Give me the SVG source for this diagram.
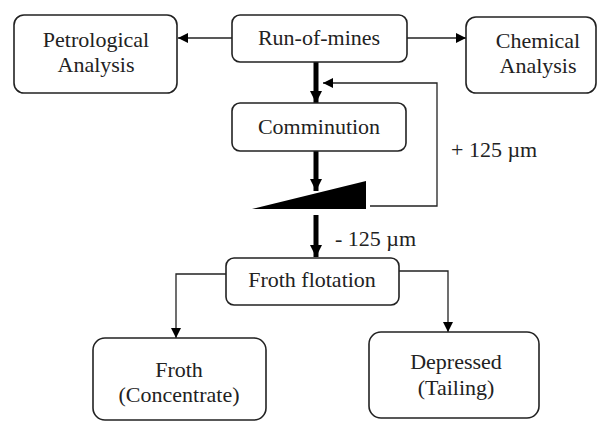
<svg xmlns="http://www.w3.org/2000/svg" width="601" height="421" viewBox="0 0 601 421">
<defs>
<marker id="ah" viewBox="0 0 10 10" refX="10" refY="5" markerWidth="10" markerHeight="10" markerUnits="userSpaceOnUse" orient="auto"><path d="M0,0 L10,5 L0,10 z" fill="#000"/></marker>
<marker id="ahb" viewBox="0 0 10 10" refX="10" refY="5" markerWidth="12" markerHeight="14" markerUnits="userSpaceOnUse" orient="auto"><path d="M0,0 L10,5 L0,10 z" fill="#000"/></marker>
</defs>
<rect width="601" height="421" fill="#fff"/>
<g id="connectors" fill="none" stroke="#222" stroke-width="1.3">
<line x1="232" y1="38" x2="178" y2="38" marker-end="url(#ah)"/>
<line x1="407" y1="38" x2="466" y2="38" marker-end="url(#ah)"/>
<line x1="316" y1="62" x2="316" y2="103" stroke="#000" stroke-width="5" marker-end="url(#ahb)"/>
<polyline points="370,206 437,206 437,83 323,83" marker-end="url(#ah)"/>
<line x1="316" y1="151" x2="316" y2="191" stroke="#000" stroke-width="5" marker-end="url(#ahb)"/>
<line x1="316" y1="215" x2="316" y2="257" stroke="#000" stroke-width="5" marker-end="url(#ahb)"/>
<polyline points="226,274 176,274 176,338" marker-end="url(#ah)"/>
<polyline points="399,271 448,271 448,332" marker-end="url(#ah)"/>
</g>
<g id="petro"><rect x="14" y="15" width="163" height="78" rx="10" fill="#fff" stroke="#222" stroke-width="1.6"/><text x="96" y="47" font-family="Times New Roman" font-size="22" text-anchor="middle" fill="#222">Petrological</text><text x="96" y="72" font-family="Times New Roman" font-size="22" text-anchor="middle" fill="#222">Analysis</text></g>
<g id="rom"><rect x="232" y="15" width="175" height="47" rx="8" fill="#fff" stroke="#222" stroke-width="1.6"/><text x="319" y="45" font-family="Times New Roman" font-size="22" text-anchor="middle" fill="#222">Run-of-mines</text></g>
<g id="chem"><rect x="466" y="17" width="130" height="76" rx="10" fill="#fff" stroke="#222" stroke-width="1.6"/><text x="538" y="48" font-family="Times New Roman" font-size="22" text-anchor="middle" fill="#222">Chemical</text><text x="538" y="73" font-family="Times New Roman" font-size="22" text-anchor="middle" fill="#222">Analysis</text></g>
<g id="comm"><rect x="232" y="103" width="174" height="48" rx="8" fill="#fff" stroke="#222" stroke-width="1.6"/><text x="319" y="134" font-family="Times New Roman" font-size="22" text-anchor="middle" fill="#222">Comminution</text></g>
<g id="screen"><polygon points="252,209 366,181 366,209" fill="#000"/></g>
<g id="plus"><text x="451" y="157" font-family="Times New Roman" font-size="22" fill="#222">+ 125 µm</text></g>
<g id="minus"><text x="335" y="246" font-family="Times New Roman" font-size="22" fill="#222">- 125 µm</text></g>
<g id="froth-flot"><rect x="226" y="258" width="173" height="47" rx="8" fill="#fff" stroke="#222" stroke-width="1.6"/><text x="312" y="287" font-family="Times New Roman" font-size="22" text-anchor="middle" fill="#222">Froth flotation</text></g>
<g id="froth"><rect x="93" y="338" width="173" height="82" rx="12" fill="#fff" stroke="#222" stroke-width="1.6"/><text x="179" y="377" font-family="Times New Roman" font-size="22" text-anchor="middle" fill="#222">Froth</text><text x="179" y="402" font-family="Times New Roman" font-size="22" text-anchor="middle" fill="#222">(Concentrate)</text></g>
<g id="dep"><rect x="369" y="332" width="170" height="86" rx="12" fill="#fff" stroke="#222" stroke-width="1.6"/><text x="456" y="369" font-family="Times New Roman" font-size="22" text-anchor="middle" fill="#222">Depressed</text><text x="456" y="395" font-family="Times New Roman" font-size="22" text-anchor="middle" fill="#222">(Tailing)</text></g>
</svg>
